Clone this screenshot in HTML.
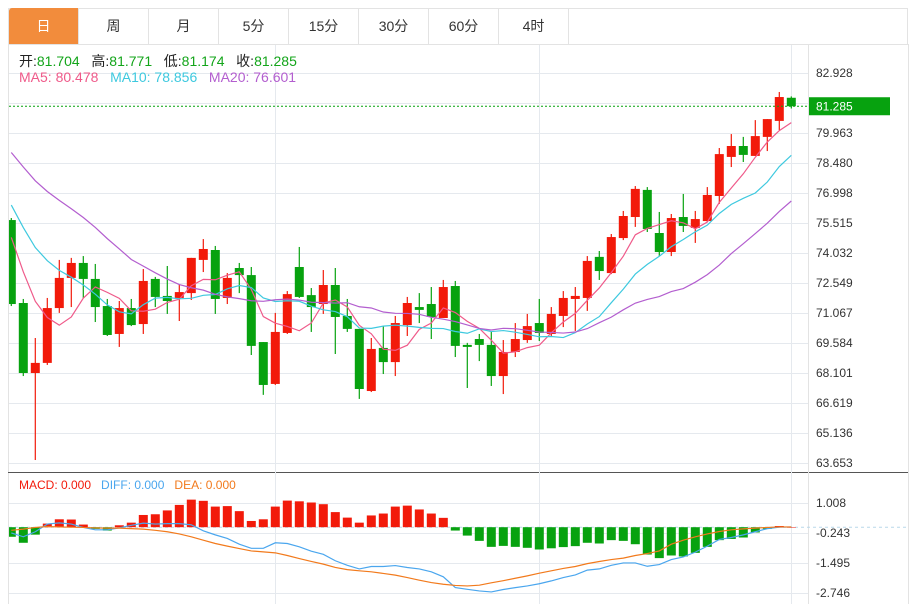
<!DOCTYPE html>
<html><head><meta charset="utf-8">
<style>
body{margin:0;background:#fff;font-family:"Liberation Sans","Noto Sans CJK SC",sans-serif;}
#wrap{position:relative;width:919px;height:604px;overflow:hidden;}
.tab{position:absolute;top:8px;height:36px;width:70px;line-height:36px;text-align:center;font-size:14px;color:#333;border-right:1px solid #e3e3e3;box-sizing:border-box;}
svg text{font-family:"Liberation Sans","Noto Sans CJK SC",sans-serif;}
</style></head><body>
<div id="wrap">
<div style="position:absolute;left:8px;top:8px;width:900px;height:37px;border:1px solid #e3e3e3;border-bottom:1px solid #e3e3e3;box-sizing:border-box"></div>
<div class="tab" style="left:9px;background:#f28c3c;color:#fff;border-radius:3px 0 0 0">日</div>
<div class="tab" style="left:79px">周</div>
<div class="tab" style="left:149px">月</div>
<div class="tab" style="left:219px">5分</div>
<div class="tab" style="left:289px">15分</div>
<div class="tab" style="left:359px">30分</div>
<div class="tab" style="left:429px">60分</div>
<div class="tab" style="left:499px">4时</div>
<svg id="chart" width="919" height="604" style="position:absolute;left:0;top:0"></svg>
</div>
<script>
const opens=[75.66,71.56,68.10,68.60,71.31,72.80,73.54,72.75,71.41,70.03,71.31,70.52,72.75,71.91,71.81,72.05,73.69,74.18,71.81,73.29,72.94,69.63,67.56,70.08,73.34,71.95,71.51,72.45,70.92,70.28,67.21,69.34,68.64,70.47,71.36,71.51,70.82,72.40,69.49,69.78,69.49,67.95,69.14,69.73,70.57,70.03,70.92,71.76,71.81,73.84,73.04,74.77,75.81,77.15,75.02,74.08,75.81,75.27,75.61,76.85,78.78,79.32,78.83,79.77,80.56,81.704];
const highs=[75.76,71.76,69.83,71.81,73.69,73.79,73.88,73.49,71.76,71.66,71.76,73.24,72.85,73.39,72.50,73.79,74.72,74.38,73.04,73.54,73.34,69.63,71.07,72.15,74.33,72.30,73.19,73.29,71.76,70.28,69.83,70.42,70.92,71.86,72.05,72.35,72.70,72.65,69.59,70.03,70.13,69.73,70.57,71.02,71.76,71.36,72.15,72.35,73.88,74.13,74.97,76.11,77.34,77.29,76.06,75.96,76.95,76.11,77.29,79.22,79.91,79.77,80.60,80.65,81.99,81.771];
const lows=[71.41,67.95,63.80,68.50,71.07,71.36,71.81,70.62,69.93,69.39,70.42,70.03,71.36,71.02,70.67,71.71,73.09,71.02,71.51,72.05,68.99,67.02,67.51,70.03,71.81,70.13,71.02,69.04,70.13,66.82,67.16,68.05,67.95,69.93,70.57,69.78,70.82,68.89,67.36,68.69,67.46,67.06,68.89,69.59,69.68,69.93,70.37,70.18,71.17,72.70,72.99,74.67,75.32,75.07,73.88,73.88,75.07,74.53,75.56,76.46,78.28,78.53,78.83,79.07,80.11,81.174];
const closes=[71.51,68.10,68.60,71.31,72.80,73.54,72.75,71.36,69.98,71.31,70.47,72.65,71.86,71.66,72.10,73.79,74.23,71.76,72.80,72.94,69.44,67.51,70.13,72.00,71.86,71.36,72.45,70.87,70.28,67.31,69.29,68.64,70.57,71.56,71.22,70.87,72.35,69.44,69.39,69.49,67.95,69.14,69.78,70.42,70.08,71.02,71.81,71.91,73.64,73.14,74.82,75.86,77.20,75.22,74.08,75.76,75.37,75.71,76.90,78.92,79.32,78.88,79.81,80.65,81.74,81.285];
const priorCloses=[82.5,82.2,81.9,81.6,81.8,81.4,81.2,81.0,81.5,80.9,79.2,78.5,77.8,77.6,76.9,76.6,75.9,75.3,74.7];
const macdBars=[-0.40,-0.65,-0.31,0.15,0.33,0.32,0.11,-0.07,-0.14,0.08,0.19,0.51,0.54,0.70,0.93,1.15,1.10,0.86,0.88,0.67,0.26,0.33,0.86,1.11,1.08,1.03,0.96,0.63,0.40,0.19,0.49,0.57,0.86,0.90,0.74,0.57,0.39,-0.14,-0.35,-0.57,-0.82,-0.78,-0.82,-0.86,-0.93,-0.88,-0.83,-0.79,-0.65,-0.68,-0.54,-0.57,-0.71,-1.14,-1.29,-1.18,-1.22,-1.07,-0.82,-0.54,-0.49,-0.43,-0.22,-0.07,0.05,0.00];
const diffs=[-0.24,-0.40,-0.19,0.13,0.18,0.13,-0.01,-0.11,-0.11,-0.03,0.08,0.17,0.13,0.15,0.15,0.10,-0.15,-0.32,-0.47,-0.71,-0.88,-0.88,-0.65,-0.68,-0.82,-1.00,-1.13,-1.40,-1.59,-1.74,-1.64,-1.64,-1.60,-1.68,-1.74,-1.86,-2.07,-2.52,-2.59,-2.66,-2.70,-2.60,-2.52,-2.45,-2.36,-2.24,-2.10,-1.99,-1.79,-1.74,-1.59,-1.49,-1.49,-1.63,-1.56,-1.35,-1.24,-1.04,-0.79,-0.51,-0.43,-0.32,-0.19,-0.06,0.00,0.01];
const deas=[-0.13,-0.08,-0.01,0.03,0.01,0.00,-0.01,-0.03,-0.04,-0.04,-0.06,-0.08,-0.13,-0.19,-0.28,-0.40,-0.54,-0.68,-0.79,-0.89,-0.99,-1.03,-1.07,-1.18,-1.31,-1.43,-1.54,-1.68,-1.77,-1.82,-1.86,-1.93,-2.00,-2.10,-2.21,-2.31,-2.38,-2.43,-2.45,-2.42,-2.32,-2.23,-2.13,-2.03,-1.92,-1.82,-1.72,-1.64,-1.52,-1.43,-1.35,-1.29,-1.18,-1.10,-0.99,-0.71,-0.54,-0.40,-0.28,-0.18,-0.11,-0.07,-0.04,-0.01,0.01,0.01];
const priceTicks=[82.928,81.446,79.963,78.480,76.998,75.515,74.032,72.549,71.067,69.584,68.101,66.619,65.136,63.653];
const macdTicks=[1.008,-0.243,-1.495,-2.746];

const NS='http://www.w3.org/2000/svg';
const svg=document.getElementById('chart');
function mk(tag,attrs,parent){const e=document.createElementNS(NS,tag);for(const k in attrs)e.setAttribute(k,attrs[k]);(parent||svg).appendChild(e);return e;}
const X=i=>11.3+12*i;
const Y=p=>73+(82.928-p)*20.233;
const MY=v=>527.2-v*23.97;
const RED='#f21a0a',GREEN='#07a20f';

const defs=mk('defs',{});
const cp=mk('clipPath',{id:'plotclip'},defs);
mk('rect',{x:9,y:45,width:799,height:427},cp);
const cp2=mk('clipPath',{id:'macdclip'},defs);
mk('rect',{x:9,y:473,width:799,height:131},cp2);

let f=mk('rect',{x:8.5,y:44.5,width:900,height:560,fill:'none',stroke:'#e3e3e3'});


let sep=mk('line',{x1:8,x2:908,y1:472.5,y2:472.5,stroke:'#555','stroke-width':1});


let ax=mk('line',{x1:808.5,x2:808.5,y1:45,y2:604,stroke:'#e3e3e3'});



const grid=mk('g',{stroke:'#e5e9ee','stroke-width':1});


priceTicks.forEach(t=>{const y=Math.round(Y(t))+0.5;mk('line',{x1:9,x2:808,y1:y,y2:y},grid);});
macdTicks.forEach(t=>{const y=Math.round(MY(t))+0.5;mk('line',{x1:9,x2:808,y1:y,y2:y},grid);});
[275.5,539.5,791.5].forEach(x=>{mk('line',{x1:x,x2:x,y1:45,y2:604},grid);});

priceTicks.forEach((t,k)=>{if(k===1)return;const tx=mk('text',{x:816,y:Y(t)+4,'font-size':12,fill:'#333'});tx.textContent=t.toFixed(3);

});
macdTicks.forEach(t=>{const tx=mk('text',{x:816,y:MY(t)+4,'font-size':12,fill:'#333'});tx.textContent=t.toFixed(3);

});

const cg=mk('g',{'clip-path':'url(#plotclip)'});


for(let i=0;i<closes.length;i++){
  const up=closes[i]>=opens[i];const col=up?RED:GREEN;
  const g=mk('g',{},cg);
  
  
  const x=X(i);
  mk('line',{x1:x,x2:x,y1:Y(highs[i]),y2:Y(lows[i]),stroke:col,'stroke-width':1.2},g);
  const yt=Y(Math.max(opens[i],closes[i])),yb=Y(Math.min(opens[i],closes[i]));
  mk('rect',{x:x-4.5,y:yt,width:9,height:Math.max(1,yb-yt),fill:col},g);
}
const all=priorCloses.concat(closes);
function ma(n){const out=[];for(let i=0;i<closes.length;i++){const j=i+priorCloses.length;let s=0;for(let k=j-n+1;k<=j;k++)s+=all[k];out.push(s/n);}return out;}
function line(vals,yf,col,name,clip){const p=mk('polyline',{points:vals.map((v,i)=>X(i)+','+yf(v)).join(' '),fill:'none',stroke:col,'stroke-width':1.2,'clip-path':clip});

}
line(ma(5),Y,'#ef5a8a','ma5-line','url(#plotclip)');
line(ma(10),Y,'#3ec9df','ma10-line','url(#plotclip)');
line(ma(20),Y,'#b35ecf','ma20-line','url(#plotclip)');

const lp=closes[closes.length-1];
let dl=mk('line',{x1:9,x2:808,y1:Y(lp),y2:Y(lp),stroke:GREEN,'stroke-dasharray':'2,2'});


let lb=mk('rect',{x:809,y:Y(lp)-9,width:81,height:18,fill:GREEN});


let lt=mk('text',{x:816,y:Y(lp)+4.5,'font-size':12,fill:'#fff'});lt.textContent=lp.toFixed(3);



let zl=mk('line',{x1:9,x2:908,y1:MY(0),y2:MY(0),stroke:'#b9d8ea','stroke-dasharray':'3,3'});


const mg=mk('g',{'clip-path':'url(#macdclip)'});


macdBars.forEach((v,i)=>{const y0=MY(0),y1=MY(v);const r=mk('rect',{x:X(i)-4.5,y:Math.min(y0,y1),width:9,height:Math.max(0.5,Math.abs(y1-y0)),fill:v>=0?RED:GREEN},mg);

});
line(diffs,MY,'#4aa6ee','diff-line','url(#macdclip)');
line(deas,MY,'#f27a1c','dea-line','url(#macdclip)');
</script>
<div style="position:absolute;left:19px;top:51px;font-size:14px;color:#222;white-space:nowrap">开:<span style="color:#13a51a">81.704</span>&nbsp;&nbsp; 高:<span style="color:#13a51a">81.771</span>&nbsp;&nbsp; 低:<span style="color:#13a51a">81.174</span>&nbsp;&nbsp; 收:<span style="color:#13a51a">81.285</span></div>
<div style="position:absolute;left:19px;top:69px;font-size:14px;white-space:nowrap"><span style="color:#ef5a8a">MA5: 80.478</span>&nbsp;&nbsp; <span style="color:#3ec9df">MA10: 78.856</span>&nbsp;&nbsp; <span style="color:#b35ecf">MA20: 76.601</span></div>
<div style="position:absolute;left:19px;top:478px;font-size:12px;white-space:nowrap"><span style="color:#f21a0a">MACD: 0.000</span>&nbsp;&nbsp; <span style="color:#4aa6ee">DIFF: 0.000</span>&nbsp;&nbsp; <span style="color:#f27a1c">DEA: 0.000</span></div>
</body></html>
